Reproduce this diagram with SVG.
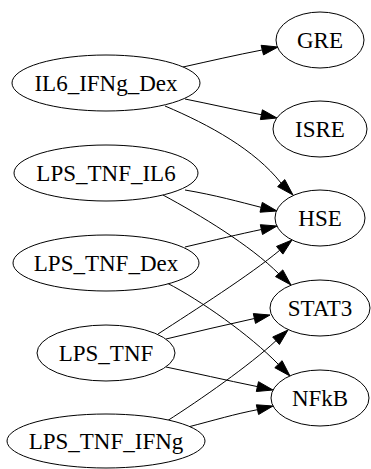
<svg xmlns="http://www.w3.org/2000/svg" width="371" height="469" viewBox="0 0 371 469">
  <style>
    .node ellipse { fill: #ffffff; stroke: #000000; stroke-width: 1; }
    .node text { font-size: 23px; fill: #000000; text-anchor: middle; }
    .edge path { fill: none; stroke: #000000; stroke-width: 1; }
    .edge polygon { fill: #000000; stroke: #000000; stroke-width: 1; }
  </style>
  <rect x="0" y="0" width="371" height="469" fill="#ffffff"/>

  <!-- connectors -->
  <g id="edges">
    <g class="edge" id="IL6_IFNg_Dex-GRE">
      <path d="M183,67 C210,61 236,55 262,50"/>
      <polygon points="278,47 261.1,45.3 263.5,54.9"/>
    </g>
    <g class="edge" id="IL6_IFNg_Dex-ISRE">
      <path d="M185,99 C210,104 236,110 261.4,114.7"/>
      <polygon points="277,118 262.4,109.8 260.4,119.6"/>
    </g>
    <g class="edge" id="IL6_IFNg_Dex-HSE">
      <path d="M165,106 C210,125 255,150 281,183"/>
      <polygon points="293,195 284.8,179.6 277.6,186.6"/>
    </g>
    <g class="edge" id="LPS_TNF_IL6-HSE">
      <path d="M185,190 C215,195 240,202 261,207.3"/>
      <polygon points="277,211 262.3,202.4 260.0,212.2"/>
    </g>
    <g class="edge" id="LPS_TNF_IL6-STAT3">
      <path d="M163,195 C200,215 250,245 279,274"/>
      <polygon points="291,285 282.8,269.9 275.5,276.6"/>
    </g>
    <g class="edge" id="LPS_TNF_Dex-HSE">
      <path d="M185,247 C215,240 240,234 261.4,229.5"/>
      <polygon points="277,226 260.3,224.7 262.5,234.5"/>
    </g>
    <g class="edge" id="LPS_TNF_Dex-NFkB">
      <path d="M167,283 C200,300 250,335 278.5,364.5"/>
      <polygon points="290,376 282.1,360.7 274.8,367.7"/>
    </g>
    <g class="edge" id="LPS_TNF-HSE">
      <path d="M158,334 C195,310 250,275 279.7,250.3"/>
      <polygon points="292,240 276.5,246.4 282.9,254.1"/>
    </g>
    <g class="edge" id="LPS_TNF-STAT3">
      <path d="M166,339 C195,332 225,325 254.4,318.5"/>
      <polygon points="270,315 253.3,313.6 255.5,323.4"/>
    </g>
    <g class="edge" id="LPS_TNF-NFkB">
      <path d="M166,367 C195,373 225,380 257.4,386.6"/>
      <polygon points="273,390 258.5,381.7 256.3,391.5"/>
    </g>
    <g class="edge" id="LPS_TNF_IFNg-STAT3">
      <path d="M167,421 C200,400 250,365 276,340.7"/>
      <polygon points="288,330 272.7,337.0 279.4,344.5"/>
    </g>
    <g class="edge" id="LPS_TNF_IFNg-NFkB">
      <path d="M188,427 C215,420 235,414 257.4,409.7"/>
      <polygon points="273,406 256.3,404.8 258.6,414.5"/>
    </g>
  </g>

  <!-- source nodes -->
  <g class="node" id="IL6_IFNg_Dex">
    <ellipse cx="106" cy="83" rx="94" ry="28"/>
    <text x="106" y="91" font-family="Liberation Serif, DejaVu Serif, serif">IL6_IFNg_Dex</text>
  </g>
  <g class="node" id="LPS_TNF_IL6">
    <ellipse cx="106" cy="173" rx="92" ry="28"/>
    <text x="106" y="181" font-family="Liberation Serif, DejaVu Serif, serif">LPS_TNF_IL6</text>
  </g>
  <g class="node" id="LPS_TNF_Dex">
    <ellipse cx="106" cy="263" rx="93" ry="28"/>
    <text x="106" y="271" font-family="Liberation Serif, DejaVu Serif, serif">LPS_TNF_Dex</text>
  </g>
  <g class="node" id="LPS_TNF">
    <ellipse cx="106" cy="353" rx="69" ry="28"/>
    <text x="106" y="361" font-family="Liberation Serif, DejaVu Serif, serif">LPS_TNF</text>
  </g>
  <g class="node" id="LPS_TNF_IFNg">
    <ellipse cx="106" cy="441" rx="99" ry="27"/>
    <text x="106" y="449" font-family="Liberation Serif, DejaVu Serif, serif">LPS_TNF_IFNg</text>
  </g>

  <!-- target nodes -->
  <g class="node" id="GRE">
    <ellipse cx="320" cy="40" rx="44" ry="28"/>
    <text x="320" y="48" font-family="Liberation Serif, DejaVu Serif, serif">GRE</text>
  </g>
  <g class="node" id="ISRE">
    <ellipse cx="320" cy="129" rx="47" ry="28"/>
    <text x="320" y="137" font-family="Liberation Serif, DejaVu Serif, serif">ISRE</text>
  </g>
  <g class="node" id="HSE">
    <ellipse cx="320" cy="218" rx="45" ry="28"/>
    <text x="320" y="226" font-family="Liberation Serif, DejaVu Serif, serif">HSE</text>
  </g>
  <g class="node" id="STAT3">
    <ellipse cx="320" cy="308" rx="50" ry="28"/>
    <text x="320" y="316" font-family="Liberation Serif, DejaVu Serif, serif">STAT3</text>
  </g>
  <g class="node" id="NFkB">
    <ellipse cx="320" cy="398" rx="49" ry="28"/>
    <text x="320" y="406" font-family="Liberation Serif, DejaVu Serif, serif">NFkB</text>
  </g>
</svg>
